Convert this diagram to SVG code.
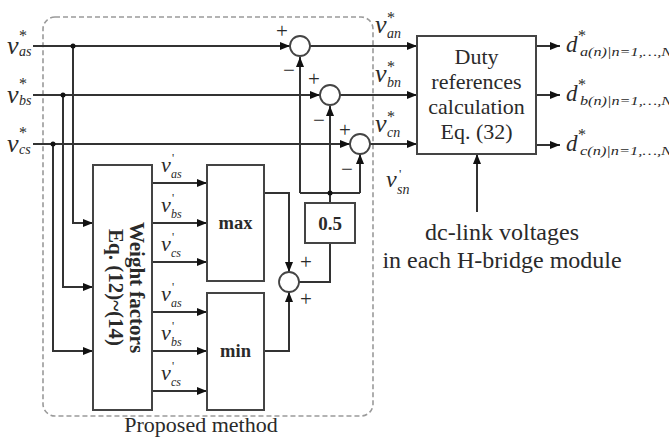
<svg xmlns="http://www.w3.org/2000/svg" width="669" height="438" viewBox="0 0 669 438">
<style>
  .ln{fill:none;stroke:#333;stroke-width:2}
  .box{fill:#fff;stroke:#444;stroke-width:2}
  .sum{fill:#fff;stroke:#444;stroke-width:1.8}
  .t{font-family:"Liberation Serif","Times New Roman",serif;fill:#2a2a2a}
  .it{font-style:italic}
  .b{font-weight:bold}
  .dot{fill:#111}
</style>
<defs>
  <marker id="ah" markerUnits="userSpaceOnUse" markerWidth="10" markerHeight="8" refX="10" refY="4" orient="auto">
    <path d="M0,0 L10,4 L0,8 z" fill="#111"/>
  </marker>
</defs>
<rect width="669" height="438" fill="#fff"/>

<g id="proposed-method-frame">
  <rect x="43" y="17" width="330" height="399" rx="12" fill="none" stroke="#9a9a9a" stroke-width="1.6" stroke-dasharray="5 3"/>
  <text class="t" x="201" y="432" font-size="22" text-anchor="middle">Proposed method</text>
</g>

<g id="connectors">
  <path class="ln" d="M33,46 H290" marker-end="url(#ah)"/>
  <path class="ln" d="M33,95 H320" marker-end="url(#ah)"/>
  <path class="ln" d="M33,144 H350" marker-end="url(#ah)"/>
  <path class="ln" d="M73,46 V223 H93" marker-end="url(#ah)"/>
  <path class="ln" d="M63,95 V287 H93" marker-end="url(#ah)"/>
  <path class="ln" d="M53,144 V351 H93" marker-end="url(#ah)"/>
  <circle class="dot" cx="73" cy="46" r="2.5"/>
  <circle class="dot" cx="63" cy="95" r="2.5"/>
  <circle class="dot" cx="53" cy="144" r="2.5"/>
  <path class="ln" d="M152,183 H207" marker-end="url(#ah)"/>
  <path class="ln" d="M152,223 H207" marker-end="url(#ah)"/>
  <path class="ln" d="M152,262 H207" marker-end="url(#ah)"/>
  <path class="ln" d="M152,312 H207" marker-end="url(#ah)"/>
  <path class="ln" d="M152,351 H207" marker-end="url(#ah)"/>
  <path class="ln" d="M152,391 H207" marker-end="url(#ah)"/>
  <path class="ln" d="M264,193 H289 V272" marker-end="url(#ah)"/>
  <path class="ln" d="M264,351 H289 V292" marker-end="url(#ah)"/>
  <path class="ln" d="M299,282 H330 V243"/>
  <path class="ln" d="M330,203 V193"/>
  <path class="ln" d="M300,193 H360"/>
  <path class="ln" d="M300,193 V57" marker-end="url(#ah)"/>
  <path class="ln" d="M330,193 V106" marker-end="url(#ah)"/>
  <path class="ln" d="M360,193 V154" marker-end="url(#ah)"/>
  <circle class="dot" cx="330" cy="193" r="2.5"/>
  <path class="ln" d="M310,46 H417" marker-end="url(#ah)"/>
  <path class="ln" d="M340,95 H417" marker-end="url(#ah)"/>
  <path class="ln" d="M370,144 H417" marker-end="url(#ah)"/>
  <path class="ln" d="M536,46 H560" marker-end="url(#ah)"/>
  <path class="ln" d="M536,95 H560" marker-end="url(#ah)"/>
  <path class="ln" d="M536,145 H560" marker-end="url(#ah)"/>
  <path class="ln" d="M477,212 V154" marker-end="url(#ah)"/>
</g>

<g id="input-labels" class="t">
  <text x="7" y="54"><tspan class="it" font-size="26">v</tspan><tspan x="19" y="41" font-size="16">*</tspan><tspan class="it" x="19" y="56" font-size="14">as</tspan></text>
  <text x="7" y="103"><tspan class="it" font-size="26">v</tspan><tspan x="19" y="89" font-size="16">*</tspan><tspan class="it" x="19" y="105" font-size="14">bs</tspan></text>
  <text x="7" y="152"><tspan class="it" font-size="26">v</tspan><tspan x="19" y="138" font-size="16">*</tspan><tspan class="it" x="19" y="154" font-size="14">cs</tspan></text>
</g>

<g id="weight-factors">
  <rect class="box" x="93" y="165" width="59" height="245"/>
  <text class="t b" transform="translate(130,287.5) rotate(90)" font-size="21" text-anchor="middle">Weight factors</text>
  <text class="t b" transform="translate(109,287.5) rotate(90)" font-size="21" text-anchor="middle">Eq. (12)~(14)</text>
</g>

<g id="weighted-labels" class="t">
  <text x="161" y="172"><tspan class="it" font-size="22">v</tspan><tspan x="172" y="162" font-size="12">'</tspan><tspan class="it" x="171" y="178" font-size="12">as</tspan></text>
  <text x="161" y="212"><tspan class="it" font-size="22">v</tspan><tspan x="172" y="202" font-size="12">'</tspan><tspan class="it" x="171" y="218" font-size="12">bs</tspan></text>
  <text x="161" y="251"><tspan class="it" font-size="22">v</tspan><tspan x="172" y="241" font-size="12">'</tspan><tspan class="it" x="171" y="257" font-size="12">cs</tspan></text>
  <text x="161" y="301"><tspan class="it" font-size="22">v</tspan><tspan x="172" y="291" font-size="12">'</tspan><tspan class="it" x="171" y="307" font-size="12">as</tspan></text>
  <text x="161" y="340"><tspan class="it" font-size="22">v</tspan><tspan x="172" y="330" font-size="12">'</tspan><tspan class="it" x="171" y="346" font-size="12">bs</tspan></text>
  <text x="161" y="380"><tspan class="it" font-size="22">v</tspan><tspan x="172" y="370" font-size="12">'</tspan><tspan class="it" x="171" y="386" font-size="12">cs</tspan></text>
</g>

<g id="max-block">
  <rect class="box" x="207" y="165" width="57" height="116"/>
  <text class="t b" x="235.5" y="229" font-size="18.5" text-anchor="middle">max</text>
</g>
<g id="min-block">
  <rect class="box" x="207" y="293" width="57" height="117"/>
  <text class="t b" x="235.5" y="357" font-size="18.5" text-anchor="middle">min</text>
</g>

<g id="sum-maxmin" class="t">
  <circle class="sum" cx="289" cy="282" r="10"/>
  <text x="306" y="269" font-size="21" text-anchor="middle">+</text>
  <text x="306" y="306" font-size="21" text-anchor="middle">+</text>
</g>

<g id="gain-0.5">
  <rect class="box" x="305" y="203" width="50" height="40"/>
  <text class="t b" x="330" y="229.5" font-size="19" text-anchor="middle">0.5</text>
</g>

<g id="sum-a" class="t">
  <circle class="sum" cx="300" cy="46" r="10"/>
  <text x="282" y="38" font-size="21" text-anchor="middle">+</text>
  <text x="289" y="77" font-size="21" text-anchor="middle">−</text>
</g>
<g id="sum-b" class="t">
  <circle class="sum" cx="330" cy="95" r="10"/>
  <text x="314" y="86" font-size="21" text-anchor="middle">+</text>
  <text x="319" y="127" font-size="21" text-anchor="middle">−</text>
</g>
<g id="sum-c" class="t">
  <circle class="sum" cx="360" cy="144" r="10"/>
  <text x="345" y="137" font-size="21" text-anchor="middle">+</text>
  <text x="347" y="176" font-size="21" text-anchor="middle">−</text>
</g>

<g id="reference-labels" class="t">
  <text x="375" y="33"><tspan class="it" font-size="26">v</tspan><tspan x="387" y="23" font-size="16">*</tspan><tspan class="it" x="387" y="38" font-size="14">an</tspan></text>
  <text x="375" y="82"><tspan class="it" font-size="26">v</tspan><tspan x="387" y="72" font-size="16">*</tspan><tspan class="it" x="387" y="87" font-size="14">bn</tspan></text>
  <text x="375" y="132"><tspan class="it" font-size="26">v</tspan><tspan x="387" y="122" font-size="16">*</tspan><tspan class="it" x="387" y="137" font-size="14">cn</tspan></text>
  <text x="386" y="187"><tspan class="it" font-size="24">v</tspan><tspan x="399" y="178" font-size="13">'</tspan><tspan class="it" x="397" y="194" font-size="14">sn</tspan></text>
</g>

<g id="duty-block">
  <rect class="box" x="417" y="36" width="119" height="118"/>
  <text class="t" x="476.5" y="64" font-size="22" text-anchor="middle">Duty</text>
  <text class="t" x="476.5" y="89" font-size="22" text-anchor="middle">references</text>
  <text class="t" x="476.5" y="114" font-size="22" text-anchor="middle">calculation</text>
  <text class="t" x="476.5" y="139" font-size="22" text-anchor="middle">Eq. (32)</text>
</g>

<g id="duty-outputs" class="t">
  <text x="566" y="52"><tspan class="it" font-size="23">d</tspan><tspan x="578" y="41" font-size="16">*</tspan><tspan class="it" x="580" y="56" font-size="13" textLength="92" lengthAdjust="spacingAndGlyphs">a(n)|n=1,…,N</tspan></text>
  <text x="566" y="101"><tspan class="it" font-size="23">d</tspan><tspan x="578" y="90" font-size="16">*</tspan><tspan class="it" x="580" y="105" font-size="13" textLength="92" lengthAdjust="spacingAndGlyphs">b(n)|n=1,…,N</tspan></text>
  <text x="566" y="151"><tspan class="it" font-size="23">d</tspan><tspan x="578" y="140" font-size="16">*</tspan><tspan class="it" x="580" y="155" font-size="13" textLength="92" lengthAdjust="spacingAndGlyphs">c(n)|n=1,…,N</tspan></text>
</g>

<g id="dc-link-label">
  <text class="t" x="502" y="240" font-size="24" text-anchor="middle">dc-link voltages</text>
  <text class="t" x="502" y="268" font-size="24" text-anchor="middle">in each H-bridge module</text>
</g>
</svg>
